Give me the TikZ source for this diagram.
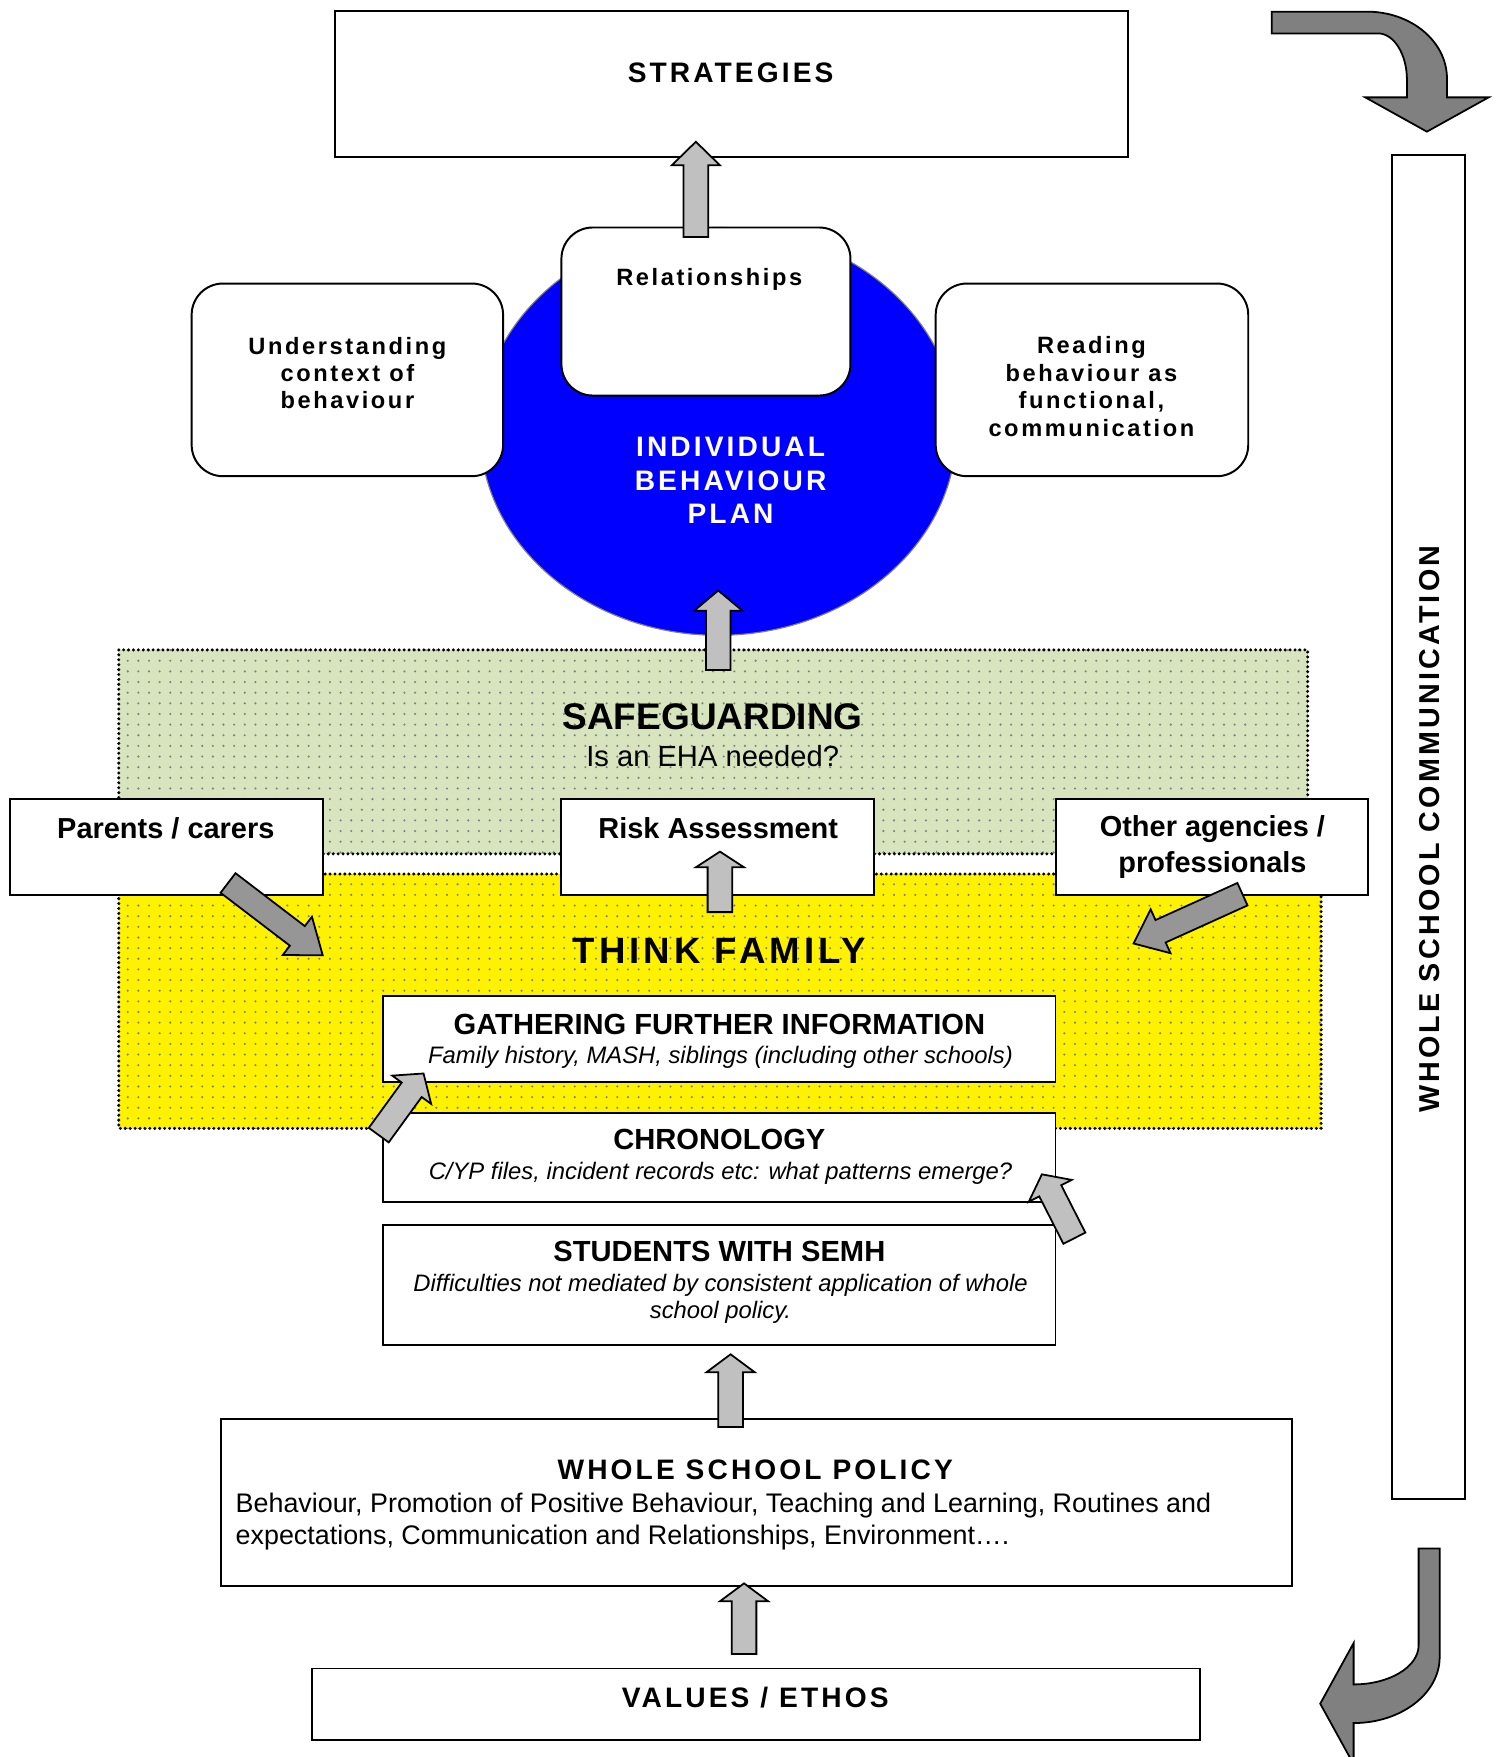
\documentclass[tikz,border=0pt]{standalone}
\usepackage{fontspec}
\setmainfont{Liberation Sans}
\newfontfamily\spacedfont[LetterSpace=11]{Liberation Sans}
\usetikzlibrary{calc,positioning,shapes.geometric,patterns.meta}
\definecolor{arrgrey}{HTML}{C0C0C0}
\definecolor{sidegrey}{HTML}{969696}
\definecolor{bendgrey}{HTML}{808080}
\definecolor{sageband}{HTML}{D7E4BD}
\definecolor{planblue}{HTML}{0000FF}
\tikzset{box/.style={draw, line width=1pt, fill=white, inner sep=0pt}}
\tikzset{roundbox/.style={box, rounded corners=0.56cm}}
\tikzset{txt/.style={inner sep=0pt, align=center}}
\tikzset{lightarr/.style={draw, line width=0.9pt, fill=arrgrey, line join=miter}}
\tikzset{sidearr/.style={draw, line width=0.9pt, fill=sidegrey, line join=miter}}
\tikzset{bendarr/.style={draw, line width=0.9pt, fill=bendgrey}}
\tikzset{band/.style={line width=1.7pt, dash pattern=on 0pt off 2.5pt, line cap=round}}
\tikzset{dotfill/.style={pattern={Dots[distance=0.19cm, radius=0.6pt]}, pattern color=black!50}}
\newcommand{\spacedbold}{\spacedfont\bfseries\fontsize{14.3}{17}\selectfont}
\newcommand{\smallspaced}{\spacedfont\bfseries\fontsize{12}{13.9}\selectfont}
\newcommand{\boxtitle}{\bfseries\fontsize{14.8}{18}\selectfont}
\newcommand{\boxnote}{\itshape\fontsize{12.1}{13.6}\selectfont}
% fat block arrow: tail, tip, head length
\newcommand{\blockarr}[4][lightarr]{%
  \path ($(#3)!#4!(#2)$) coordinate (hb);
  \draw[#1] ($(#2)!0.22cm!90:(#3)$) -- ($(hb)!0.22cm!90:(#3)$) -- ($(hb)!0.43cm!90:(#3)$) -- (#3)
    -- ($(hb)!0.43cm!-90:(#3)$) -- ($(hb)!0.22cm!-90:(#3)$) -- ($(#2)!0.22cm!-90:(#3)$) -- cycle;
}

\begin{document}
\begin{tikzpicture}[x=0.02cm, y=-0.02cm]
  \useasboundingbox (0,0) rectangle (1338,1568);

  \node[box, minimum width=14.16cm, minimum height=2.6cm] (strat) at (653,75) {};
  \node[txt, font=\spacedbold] (strattext) at (652,65) {STRATEGIES};

  \node[ellipse, draw=gray, fill=planblue, line width=0.6pt, inner sep=0pt,
        minimum width=8.5cm, minimum height=7.28cm] (ibp) at (641,385) {};
  \node[txt, text=white, font=\spacedbold] (ibptext) at (652,429) {INDIVIDUAL\\BEHAVIOUR\\PLAN};

  \node[roundbox, minimum width=5.56cm, minimum height=3.44cm] (und) at (310,339) {};
  \node[roundbox, minimum width=5.16cm, minimum height=3cm] (rel) at (630,278) {};
  \node[roundbox, minimum width=5.58cm, minimum height=3.44cm] (read) at (974.5,339) {};
  \node[txt, font=\smallspaced] (undtext) at (310,333) {Understanding\\context of\\behaviour};
  \node[txt, font=\smallspaced] (reltext) at (633,249) {Relationships};
  \node[txt, font=\smallspaced] (readtext) at (974,345) {Reading\\behaviour as\\functional,\\communication};

  \coordinate (a1t) at (621,211.6);
  \coordinate (a1h) at (621,126.5);
  \blockarr{a1t}{a1h}{0.42cm}

  % safeguarding and think family bands
  \fill[sageband] (106,580) rectangle (1167,762);
  \fill[dotfill] (106,580) rectangle (1167,762);
  \draw[band] (106,580) rectangle (1167,762);
  \fill[yellow] (106,780) rectangle (1179,1007);
  \fill[dotfill] (106,780) rectangle (1179,1007);
  \draw[band] (106,780) rectangle (1179,1007);

  \coordinate (a2t) at (641,598);
  \coordinate (a2h) at (641,527);
  \blockarr{a2t}{a2h}{0.36cm}

  \node[txt, font=\bfseries\fontsize{18.8}{22}\selectfont] (safetext) at (636,640) {SAFEGUARDING};
  \node[txt, font=\fontsize{14.8}{18}\selectfont] (ehatext) at (636,675) {Is an EHA needed?};
  \node[txt, font=\spacedfont\bfseries\fontsize{18.6}{22}\selectfont] (famtext) at (642,849) {THINK FAMILY};

  \node[box, minimum width=5.58cm, minimum height=1.72cm] (parents) at (148.5,756) {};
  \node[box, minimum width=5.58cm, minimum height=1.72cm] (risk) at (640.5,756) {};
  \node[box, minimum width=5.58cm, minimum height=1.72cm] (agencies) at (1081.5,756) {};
  \node[txt, font=\bfseries\fontsize{14.7}{18.1}\selectfont] (parentstext) at (148,739) {Parents / carers};
  \node[txt, font=\bfseries\fontsize{14.7}{18.1}\selectfont] (risktext) at (641,739) {Risk Assessment};
  \node[txt, font=\bfseries\fontsize{14.7}{18.1}\selectfont] (agenciestext) at (1082,756) {Other agencies /\\professionals};

  \coordinate (a3t) at (642.5,814);
  \coordinate (a3h) at (642.5,760);
  \blockarr{a3t}{a3h}{0.28cm}
  \coordinate (a4t) at (203.5,788);
  \coordinate (a4h) at (288,852.5);
  \blockarr[sidearr]{a4t}{a4h}{0.57cm}
  \coordinate (a5t) at (1108.8,798);
  \coordinate (a5h) at (1011.6,842);
  \blockarr[sidearr]{a5t}{a5h}{0.53cm}

  \node[box, minimum width=12cm, minimum height=1.54cm] (gather) at (642,927.5) {};
  \node[txt, font=\boxtitle] (gathertitle) at (642,914) {GATHERING FURTHER INFORMATION};
  \node[txt, font=\boxnote] (gathernote) at (643,944) {Family history, MASH, siblings (including other schools)};

  \node[box, minimum width=12cm, minimum height=1.6cm] (chrono) at (642,1033) {};
  \node[txt, font=\boxtitle] (chronotitle) at (642,1017) {CHRONOLOGY};
  \node[txt, font=\boxnote] (chrononote) at (643,1047) {C/YP files, incident records etc: what patterns emerge?};

  \node[box, minimum width=12cm, minimum height=2.14cm] (semh) at (642,1146.5) {};
  \node[txt, font=\boxtitle] (semhtitle) at (642,1117) {STUDENTS WITH SEMH};
  \node[txt, font=\boxnote] (semhnote) at (643,1159) {Difficulties not mediated by consistent application of whole\\school policy.};

  \coordinate (a6t) at (338,1013);
  \coordinate (a6h) at (378,958);
  \blockarr{a6t}{a6h}{0.36cm}
  \coordinate (a7t) at (958.8,1105);
  \coordinate (a7h) at (929.8,1048);
  \blockarr{a7t}{a7h}{0.33cm}

  \node[box, minimum width=19.12cm, minimum height=2.98cm] (policy) at (675,1340.5) {};
  \node[txt, font=\spacedbold] (policytitle) at (674,1312) {WHOLE SCHOOL POLICY};
  \node[txt, anchor=west, align=left, font=\fontsize{13.65}{16.2}\selectfont] (policynote) at (210,1357.5)
    {Behaviour, Promotion of Positive Behaviour, Teaching and Learning, Routines and\\expectations, Communication and Relationships, Environment….};

  \node[box, minimum width=15.86cm, minimum height=1.28cm] (values) at (674.5,1521) {};
  \node[txt, font=\spacedbold] (valuestext) at (674,1515) {VALUES / ETHOS};

  \coordinate (a8t) at (652,1273.5);
  \coordinate (a8h) at (652,1208.6);
  \blockarr{a8t}{a8h}{0.32cm}
  \coordinate (a9t) at (664,1476);
  \coordinate (a9h) at (664,1413);
  \blockarr{a9t}{a9h}{0.32cm}

  \node[box, minimum width=1.3cm, minimum height=24cm] (comm) at (1274.5,738) {};
  \node[txt, rotate=90, font=\spacedfont\bfseries\fontsize{14.6}{17}\selectfont] (commtext) at (1276,740) {WHOLE SCHOOL COMMUNICATION};

  % curved arrows at the right
  \draw[bendarr] (1135,10.4) -- (1220,10.4) .. controls (1259.4,10.4) and (1291.3,37.1) .. (1291.3,70)
    -- (1291.3,86.9) -- (1328.5,86.9) -- (1273.4,117.5) -- (1218.4,86.9) -- (1255.6,86.9) -- (1255.6,71.4)
    .. controls (1255.6,48.4) and (1244,29.8) .. (1229.7,29.8) -- (1135,29.8) -- cycle;
  \draw[bendarr] (1266,1382) -- (1284.8,1382) -- (1284.8,1478.8) .. controls (1284.8,1511.3) and (1250.4,1537.7) .. (1208,1537.7)
    -- (1208,1574.5) -- (1178.2,1520.4) -- (1208,1466.3) -- (1208,1503.2)
    .. controls (1240,1503.2) and (1266,1487.6) .. (1266,1468.3) -- cycle;
\end{tikzpicture}
\end{document}
